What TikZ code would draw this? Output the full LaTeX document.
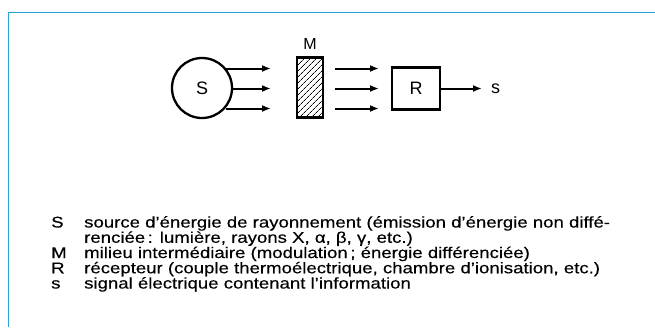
\documentclass[tikz,border=0pt]{standalone}
\usepackage{fontspec}
\setmainfont{Liberation Sans}
\newfontfamily\legendfont[FakeStretch=1.2,FakeBold=0.3]{Liberation Sans}
\usetikzlibrary{patterns.meta,arrows.meta}
\definecolor{framecol}{RGB}{41,163,220}
\begin{document}
\begin{tikzpicture}[x=1pt,y=-1pt,
  ray/.style={line width=2pt,-{Latex[length=9pt,width=7pt]}},
  shapeline/.style={draw,line width=2.3pt},
  lbl/.style={font=\fontsize{18}{18}\selectfont,inner sep=0pt},
  key/.style={anchor=base west,inner sep=0pt,font=\legendfont\fontsize{15.5}{15.5}\selectfont},
  desc/.style={anchor=base west,inner sep=0pt,font=\legendfont\fontsize{15.5}{15.5}\selectfont}]
\useasboundingbox (0,0) rectangle (655,327);
\draw[framecol,line width=1pt] (8,327) -- (8,12) -- (655,12);
% source
\node[circle,shapeline,minimum size=60pt,inner sep=0pt,lbl] (S) at (202,88) {S};
% medium
\node[shapeline,minimum width=26pt,minimum height=60pt,inner sep=0pt,
  pattern={Lines[angle=45,distance=4pt,line width=0.7pt]}] (M) at (310,87.5) {};
\node[lbl,font=\fontsize{16}{16}\selectfont,anchor=south] (Ml) at (310,50) {M};
% receiver
\node[shapeline,minimum width=48pt,minimum height=42pt,inner sep=0pt,lbl] (R) at (416,88.5) {R};
\node[lbl,anchor=west] (s) at (491,88.5) {s};
% rays
\coordinate (a1) at (226,68.5);
\coordinate (a2) at (232,88.5);
\coordinate (a3) at (226,108.5);
\coordinate (b1) at (271,68.5);
\coordinate (b2) at (271,88.5);
\coordinate (b3) at (271,108.5);
\draw[ray] (a1) -- (b1);
\draw[ray] (a2) -- (b2);
\draw[ray] (a3) -- (b3);
\coordinate (c1) at (335,68.5);
\coordinate (c2) at (335,88.5);
\coordinate (c3) at (335,108.5);
\coordinate (d1) at (379,68.5);
\coordinate (d2) at (379,88.5);
\coordinate (d3) at (379,108.5);
\draw[ray] (c1) -- (d1);
\draw[ray] (c2) -- (d2);
\draw[ray] (c3) -- (d3);
\coordinate (e) at (482,88.5);
\draw[ray] (R.east) -- (e);
% legend
\node[key] (k1) at (51,227.5) {S};
\node[desc] (t1) at (84,227.5) {source d’énergie de rayonnement (émission d’énergie non diffé-};
\node[desc] (t2) at (84,242.75) {renciée\,: lumière, rayons X, α, β, γ, etc.)};
\node[key] (k3) at (51,258) {M};
\node[desc] (t3) at (84,258) {milieu intermédiaire (modulation\,; énergie différenciée)};
\node[key] (k4) at (51,273.25) {R};
\node[desc] (t4) at (84,273.25) {récepteur (couple thermoélectrique, chambre d’ionisation, etc.)};
\node[key] (k5) at (51,288.5) {s};
\node[desc] (t5) at (84,288.5) {signal électrique contenant l’information};
\end{tikzpicture}
\end{document}
